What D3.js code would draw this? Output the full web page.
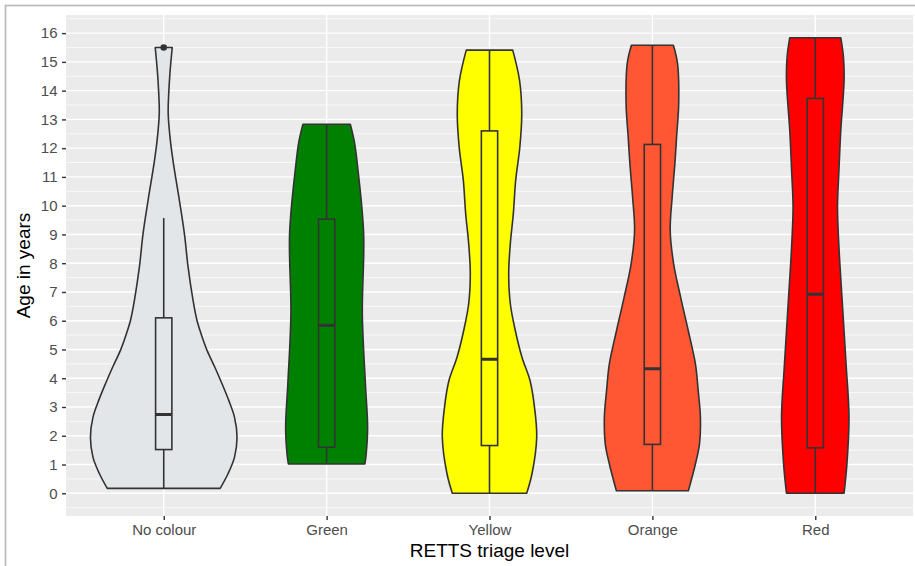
<!DOCTYPE html>
<html><head><meta charset="utf-8">
<script src="https://cdn.jsdelivr.net/npm/d3@7"></script>
<style>
body{margin:0;background:#fff;}
svg{display:block;font-family:"Liberation Sans",Arial,Helvetica,sans-serif;}
</style></head>
<body><svg id="c" width="915" height="566"></svg>
<script>
const categories = ["No colour","Green","Yellow","Orange","Red"];
const fills = ["#e3e6e8","#008000","#ffff00","#ff5733","#ff0000"];
const yTicks = [0,1,2,3,4,5,6,7,8,9,10,11,12,13,14,15,16];
// violin outlines: [age, relative density (1 = widest violin)]
const violinNoColour = [[0.17,0.77],[0.68,0.877],[1.25,0.965],[1.95,1.0],[2.65,0.965],[3.23,0.887],[3.81,0.795],[4.39,0.696],[4.97,0.591],[5.55,0.509],[6.01,0.454],[6.71,0.4],[7.87,0.332],[9.03,0.282],[10.18,0.214],[11.47,0.132],[12.28,0.09],[13.2,0.061],[13.9,0.068],[14.65,0.086],[15.5,0.116]];
const violinGreen = [[1.02,0.522],[1.37,0.54],[2.3,0.559],[3.81,0.529],[6.24,0.487],[9.03,0.505],[11.35,0.423],[12.2,0.38],[12.83,0.323]];
const violinYellow = [[0,0.507],[0.68,0.58],[1.95,0.644],[2.99,0.614],[3.92,0.553],[4.73,0.443],[5.66,0.352],[6.59,0.284],[7.64,0.262],[8.68,0.284],[9.72,0.325],[10.88,0.357],[12.04,0.414],[13.2,0.44],[14.36,0.41],[15.41,0.317]];
const violinOrange = [[0.09,0.491],[1.02,0.587],[1.72,0.643],[2.65,0.655],[3.57,0.625],[4.5,0.587],[5.66,0.489],[6.82,0.385],[7.98,0.29],[9.14,0.243],[10.3,0.27],[11.47,0.307],[12.39,0.33],[13.55,0.359],[14.95,0.343],[15.58,0.286]];
const violinRed = [[0,0.393],[1.02,0.432],[2.65,0.46],[4.5,0.42],[6.82,0.364],[8.56,0.323],[9.95,0.303],[11.23,0.323],[12.62,0.348],[14.36,0.393],[15.18,0.384],[15.84,0.348]];
const violins = [violinNoColour,violinGreen,violinYellow,violinOrange,violinRed];
// boxplot stats: whisker low, q1, median, q3, whisker high
const boxLow    = [0.17,1.02,0,0.09,0];
const boxQ1     = [1.52,1.60,1.66,1.70,1.58];
const boxMedian = [2.74,5.84,4.66,4.33,6.92];
const boxQ3     = [6.10,9.53,12.60,12.13,13.73];
const boxHigh   = [9.57,12.83,15.41,15.58,15.84];
const outliers  = [[0,15.5]];

const svg = d3.select("#c");
const L=66,R=913,T=15,B=516;
svg.append("rect").attr("x",5.5).attr("y",5.5).attr("width",930).attr("height",580)
  .attr("fill","none").attr("stroke","#bdbdbd").attr("stroke-width",1.8);

const x = d3.scalePoint().domain(categories).range([L,R]).padding(0.6);
const y = d3.scaleLinear().domain([-0.79,16.63]).range([B,T]);
const step = x.step();
const w = d3.scaleLinear().domain([0,1]).range([0,step*0.45]);

svg.append("rect").attr("x",L).attr("y",T).attr("width",R-L).attr("height",B-T).attr("fill","#ebebeb");
const g = svg.append("g");
const minor = d3.range(-0.5,17,1);
g.selectAll(".mn").data(minor).join("line").attr("x1",L).attr("x2",R)
  .attr("y1",d=>y(d)).attr("y2",d=>y(d)).attr("stroke","#fff").attr("stroke-width",0.7);
g.selectAll(".mj").data(yTicks).join("line").attr("x1",L).attr("x2",R)
  .attr("y1",d=>y(d)).attr("y2",d=>y(d)).attr("stroke","#fff").attr("stroke-width",1.4);
g.selectAll(".vx").data(categories).join("line").attr("y1",T).attr("y2",B)
  .attr("x1",d=>x(d)).attr("x2",d=>x(d)).attr("stroke","#fff").attr("stroke-width",1.4);

const SW = 1.6;
categories.forEach((c,i)=>{
  const cx = x(c);
  const area = d3.area().curve(d3.curveCatmullRom.alpha(0.5))
    .y(d=>y(d[0])).x0(d=>cx-w(d[1])).x1(d=>cx+w(d[1]));
  svg.append("path").attr("d",area(violins[i])).attr("fill",fills[i])
    .attr("stroke","#333").attr("stroke-width",SW).attr("stroke-linejoin","round");
  const bw = step*0.1/2;
  svg.append("line").attr("x1",cx).attr("x2",cx).attr("y1",y(boxHigh[i])).attr("y2",y(boxQ3[i])).attr("stroke","#333").attr("stroke-width",SW);
  svg.append("line").attr("x1",cx).attr("x2",cx).attr("y1",y(boxQ1[i])).attr("y2",y(boxLow[i])).attr("stroke","#333").attr("stroke-width",SW);
  svg.append("rect").attr("x",cx-bw).attr("width",bw*2).attr("y",y(boxQ3[i])).attr("height",y(boxQ1[i])-y(boxQ3[i]))
    .attr("fill",fills[i]).attr("stroke","#333").attr("stroke-width",SW);
  svg.append("line").attr("x1",cx-bw).attr("x2",cx+bw).attr("y1",y(boxMedian[i])).attr("y2",y(boxMedian[i])).attr("stroke","#333").attr("stroke-width",3);
});
outliers.forEach(o=>{
  svg.append("circle").attr("cx",x(categories[o[0]])).attr("cy",y(o[1])).attr("r",3.3).attr("fill","#333");
});

const ya = svg.append("g").attr("transform",`translate(${L},0)`)
  .call(d3.axisLeft(y).tickValues(yTicks).tickSize(4).tickPadding(4.5));
const xa = svg.append("g").attr("transform",`translate(0,${B})`)
  .call(d3.axisBottom(x).tickSize(4).tickPadding(4));
[ya,xa].forEach(a=>{
  a.select(".domain").remove();
  a.selectAll(".tick line").attr("stroke","#333").attr("stroke-width",1.4);
  a.selectAll(".tick text").attr("fill","#4d4d4d").style("font-size","15px").style("font-family","'Liberation Sans',Arial,sans-serif");
});
svg.append("text").attr("x",(L+R)/2).attr("y",557).attr("text-anchor","middle")
  .style("font-size","19px").attr("fill","#000").text("RETTS triage level");
svg.append("text").attr("transform",`translate(30,${(T+B)/2}) rotate(-90)`).attr("text-anchor","middle")
  .style("font-size","19px").attr("fill","#000").text("Age in years");
</script></body></html>
